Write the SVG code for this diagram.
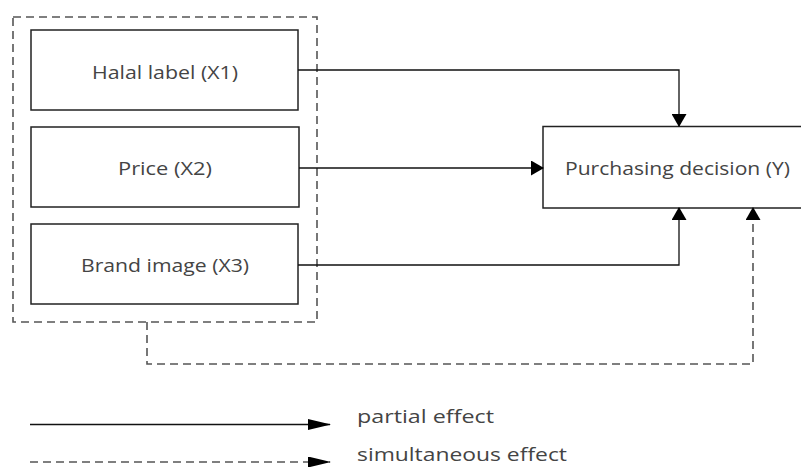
<svg xmlns="http://www.w3.org/2000/svg" width="801" height="467" viewBox="0 0 801 467">
<style>
.box{fill:#fff;stroke:#222;stroke-width:1.5}
.dash{fill:none;stroke:#555;stroke-width:1.6;stroke-dasharray:8,5}
.ln{fill:none;stroke:#111;stroke-width:1.3}
.t{font-family:"Open Sans","Noto Sans",sans-serif;font-size:17.5px;fill:#444}
</style>
<defs>
<marker id="ah" markerWidth="13" markerHeight="15" refX="12" refY="7.5" orient="auto" markerUnits="userSpaceOnUse">
<path d="M0,0 L13,7.5 L0,15 Z" fill="#000"/>
</marker>
<marker id="lah" markerWidth="23" markerHeight="11" refX="22" refY="5.5" orient="auto" markerUnits="userSpaceOnUse">
<path d="M0,0 L23,5.5 L0,11 Z" fill="#000"/>
</marker>
</defs>
<rect width="801" height="467" fill="#fff"/>
<g id="group-box"><rect x="13" y="17" width="304" height="305" class="dash"/></g>
<g id="x1"><rect x="31" y="30" width="267" height="80" class="box"/><text x="92" y="79" class="t" textLength="146" lengthAdjust="spacingAndGlyphs">Halal label (X1)</text></g>
<g id="x2"><rect x="31" y="127" width="268" height="80" class="box"/><text x="118" y="175" class="t" textLength="94" lengthAdjust="spacingAndGlyphs">Price (X2)</text></g>
<g id="x3"><rect x="31" y="224" width="267" height="80" class="box"/><text x="81" y="272" class="t" textLength="168" lengthAdjust="spacingAndGlyphs">Brand image (X3)</text></g>
<g id="y"><rect x="543" y="126.5" width="262" height="81.5" class="box"/><text x="565" y="175" class="t" textLength="225" lengthAdjust="spacingAndGlyphs">Purchasing decision (Y)</text></g>
<g id="connectors">
<path d="M298,70 H679 V126" class="ln" marker-end="url(#ah)"/>
<path d="M299,168 H543" class="ln" marker-end="url(#ah)"/>
<path d="M298,265 H679 V208" class="ln" marker-end="url(#ah)"/>
<path d="M147,322 V364 H753 V208" class="dash" marker-end="url(#ah)"/>
</g>
<g id="legend">
<path d="M30,424.5 H330" class="ln" marker-end="url(#lah)"/>
<text x="357" y="423" class="t" textLength="137" lengthAdjust="spacingAndGlyphs">partial effect</text>
<path d="M30,462 H330" class="dash" marker-end="url(#lah)"/>
<text x="357" y="461" class="t" textLength="210" lengthAdjust="spacingAndGlyphs">simultaneous effect</text>
</g>
</svg>
